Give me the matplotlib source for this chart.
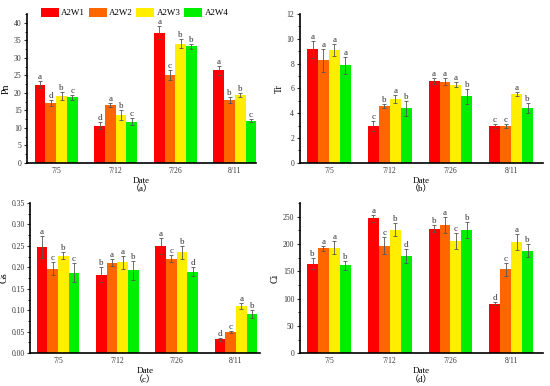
import numpy as np
import matplotlib
matplotlib.use('Agg')
import matplotlib.pyplot as plt
from matplotlib.ticker import AutoMinorLocator

plt.rcParams['font.family'] = ['Liberation Serif', 'Noto Sans CJK SC']

dates = ['7/5', '7/12', '7/26', '8/11']
series = ['A2W1', 'A2W2', 'A2W3', 'A2W4']
colors = ['#ff0000', '#ff6600', '#ffee00', '#00ee00']

# Pn
pn = [[22.3, 10.6, 37.2, 26.5],
      [17.2, 16.6, 25.2, 18.0],
      [19.2, 13.8, 34.1, 19.4],
      [18.7, 11.7, 33.3, 12.1]]
pn_err = [[1.0, 1.0, 1.8, 1.3],
          [0.9, 0.6, 1.5, 0.9],
          [1.2, 1.4, 1.2, 0.6],
          [0.6, 1.0, 0.8, 0.5]]
pn_sig = [['a', 'd', 'a', 'a'],
          ['d', 'a', 'c', 'b'],
          ['b', 'b', 'b', 'b'],
          ['c', 'c', 'b', 'c']]

# Tr
tr = [[9.15, 2.95, 6.6, 2.95],
      [8.25, 4.6, 6.55, 2.95],
      [9.1, 5.15, 6.3, 5.55],
      [7.85, 4.4, 5.35, 4.45]]
tr_err = [[0.7, 0.4, 0.25, 0.15],
          [0.9, 0.15, 0.25, 0.15],
          [0.5, 0.3, 0.2, 0.15],
          [0.7, 0.6, 0.6, 0.4]]
tr_sig = [['a', 'c', 'a', 'c'],
          ['a', 'b', 'a', 'c'],
          ['a', 'a', 'a', 'a'],
          ['a', 'b', 'b', 'b']]

# Gs
gs = [[0.247, 0.183, 0.250, 0.032],
      [0.197, 0.211, 0.220, 0.049],
      [0.227, 0.212, 0.235, 0.110],
      [0.188, 0.193, 0.190, 0.091]]
gs_err = [[0.025, 0.018, 0.018, 0.004],
          [0.015, 0.008, 0.008, 0.003],
          [0.008, 0.015, 0.015, 0.007],
          [0.022, 0.022, 0.010, 0.010]]
gs_sig = [['a', 'b', 'a', 'd'],
          ['c', 'a', 'c', 'c'],
          ['b', 'a', 'b', 'a'],
          ['c', 'b', 'd', 'b']]

# Ci
ci = [[164, 247, 228, 91],
      [192, 197, 235, 154],
      [193, 226, 205, 204],
      [161, 178, 226, 188]]
ci_err = [[10, 7, 6, 3],
          [4, 15, 15, 12],
          [12, 12, 15, 15],
          [8, 12, 15, 12]]
ci_sig = [['b', 'a', 'b', 'd'],
          ['a', 'c', 'a', 'c'],
          ['a', 'b', 'c', 'a'],
          ['b', 'd', 'b', 'b']]

fig = plt.figure(figsize=(5.5, 3.86), dpi=100)

panels = [
    ([0.049, 0.578, 0.416, 0.386], pn, pn_err, pn_sig, 'Pn', (0, 42.6), np.arange(0, 41, 5), (0.51, 4.35), '（a）', None),
    ([0.545, 0.578, 0.442, 0.386], tr, tr_err, tr_sig, 'Tr', (0, 12), np.arange(0, 13, 2), (0.52, 4.52), '（b）', None),
    ([0.055, 0.085, 0.418, 0.389], gs, gs_err, gs_sig, 'Gs', (0, 0.35), np.arange(0, 0.351, 0.05), (0.53, 4.41), '（c）', '%.2f'),
    ([0.545, 0.085, 0.442, 0.389], ci, ci_err, ci_sig, 'Ci', (0, 275), np.arange(0, 251, 50), (0.52, 4.52), '（d）', None),
]

x = np.arange(1, 5)
w = 0.18
for idx, (pos, vals, errs, sigs, ylab, ylim, yt, xlim, tag, fmt) in enumerate(panels):
    ax = fig.add_axes(pos)
    span = ylim[1] - ylim[0]
    for i in range(4):
        xs = x + (i - 1.5) * w
        ax.bar(xs, vals[i], width=w, color=colors[i], label=series[i],
               yerr=errs[i], error_kw=dict(ecolor='#555555', elinewidth=0.6, capsize=1.5, capthick=0.6))
        for xx, v, e, s in zip(xs, vals[i], errs[i], sigs[i]):
            ax.text(xx, v + e, s, ha='center', va='bottom', fontsize=6.5, color='#333333')
    ax.set_xlim(*xlim)
    ax.set_ylim(*ylim)
    ax.set_yticks(yt)
    if fmt:
        ax.set_yticklabels([fmt % t for t in yt])
    ax.yaxis.set_minor_locator(AutoMinorLocator(2))
    ax.set_xticks(x)
    ax.set_xticklabels(dates)
    ax.tick_params(axis='both', labelsize=5.5, length=2, width=0.8, pad=2, colors='#333333')
    ax.tick_params(axis='x', length=0, pad=3)
    ax.tick_params(axis='y', which='minor', length=1.2, width=0.6)
    ax.spines['top'].set_visible(False)
    ax.spines['right'].set_visible(False)
    ax.spines['left'].set_linewidth(1.2)
    ax.spines['bottom'].set_linewidth(1.2)
    ax.set_ylabel(ylab, fontsize=7, labelpad=2)
    ax.set_xlabel('Date\n' + tag, fontsize=6.5, labelpad=1.5, linespacing=0.95)
    if idx == 0:
        ax.legend(loc='upper left', bbox_to_anchor=(0.045, 1.065), ncol=4, frameon=False,
                  fontsize=6.5, handlelength=2.0, handleheight=1.2, columnspacing=0.4,
                  handletextpad=0.25, borderaxespad=0)

fig.savefig('out.png', dpi=100)
